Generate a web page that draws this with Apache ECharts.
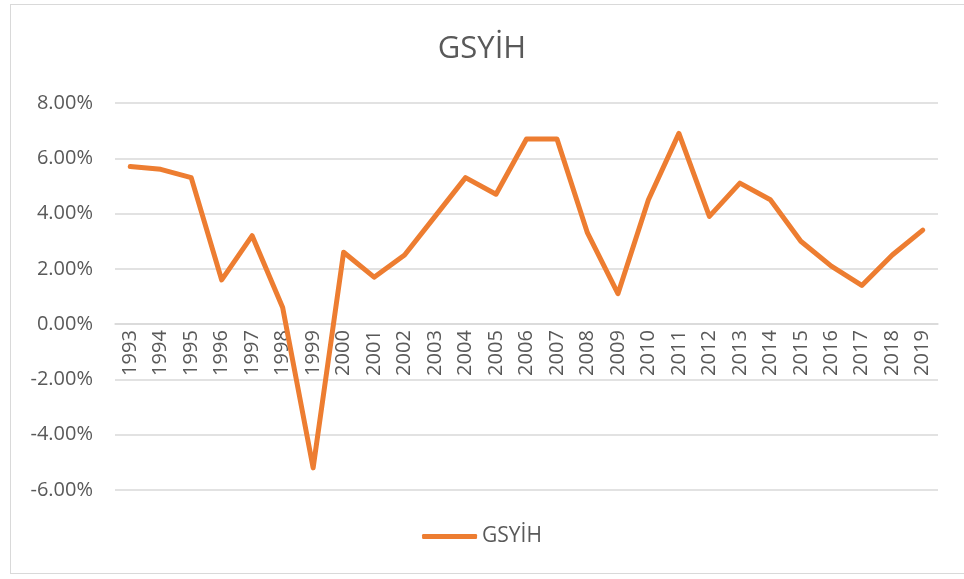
<!DOCTYPE html>
<html>
<head>
<meta charset="utf-8">
<script src="https://cdn.jsdelivr.net/npm/echarts@6/dist/echarts.min.js"></script>
<style>
  html, body { margin: 0; padding: 0; background: #fff; }
  #frame {
    position: absolute; left: 10px; top: 4px; width: 970px; height: 570px;
    border: 1px solid #d9d9d9; box-sizing: border-box;
  }
  #chart { position: absolute; left: 0; top: 0; width: 964px; height: 579px; }
</style>
</head>
<body>
<div id="frame"></div>
<div id="chart"></div>
<script>
const years = ['1993', '1994', '1995', '1996', '1997', '1998', '1999', '2000', '2001', '2002',
  '2003', '2004', '2005', '2006', '2007', '2008', '2009', '2010', '2011', '2012',
  '2013', '2014', '2015', '2016', '2017', '2018', '2019']
const gsyih = [5.7, 5.6, 5.3, 1.6, 3.2, 0.6, -5.2, 2.6, 1.7, 2.5,
  3.9, 5.3, 4.7, 6.7, 6.7, 3.3, 1.1, 4.5, 6.9, 3.9,
  5.1, 4.5, 3.0, 2.1, 1.4, 2.5, 3.4]
const yMin = -6
const yMax = 8

const chart = echarts.init(document.getElementById('chart'))
const font = '"Open Sans", "DejaVu Sans", sans-serif'

const gridTop = 103
const gridBottom = 89
const plotH = 579 - gridTop - gridBottom
// move the category axis up to the 0% line
const zeroOffset = -plotH * (0 - yMin) / (yMax - yMin)

chart.setOption({
  animation: false,
  title: {
    text: 'GSYİH',
    left: 'center',
    top: 29,
    textStyle: { color: '#595959', fontSize: 31, fontWeight: 'normal', fontFamily: font },
  },
  legend: {
    data: ['GSYİH'],
    bottom: 27,
    left: 'center',
    itemWidth: 55,
    itemHeight: 5,
    itemGap: 4,
    icon: 'roundRect',
    textStyle: { color: '#595959', fontSize: 21, fontFamily: font },
  },
  grid: { left: 115, right: 26, top: gridTop, bottom: gridBottom },
  xAxis: {
    type: 'category',
    data: years,
    boundaryGap: true,
    offset: zeroOffset,
    axisLine: { onZero: false, lineStyle: { color: '#d9d9d9', width: 1.5 } },
    axisTick: { show: false },
    axisLabel: {
      rotate: 90,
      interval: 0,
      margin: 6,
      color: '#595959',
      fontSize: 20,
      fontFamily: font,
    },
  },
  yAxis: {
    type: 'value',
    min: yMin,
    max: yMax,
    interval: 2,
    axisLine: { show: false },
    axisTick: { show: false },
    axisLabel: {
      color: '#595959',
      fontSize: 20,
      fontFamily: font,
      margin: 22,
      formatter: (v) => v.toFixed(2) + '%',
    },
    splitLine: { lineStyle: { color: '#d9d9d9', width: 1.5 } },
  },
  series: [
    {
      name: 'GSYİH',
      type: 'line',
      data: gsyih,
      showSymbol: false,
      symbol: 'none',
      lineStyle: { color: '#ED7D31', width: 5, cap: 'round', join: 'round' },
      itemStyle: { color: '#ED7D31' },
    },
  ],
})
</script>
</body>
</html>
